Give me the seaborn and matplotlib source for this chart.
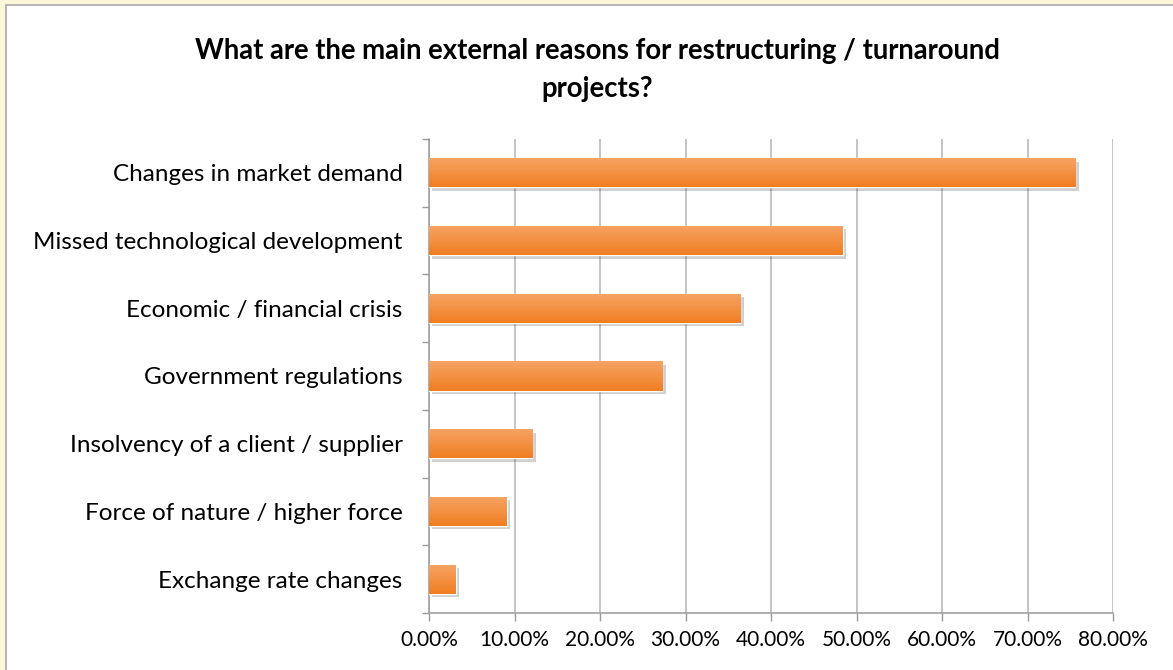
import numpy as np
import pandas as pd
import matplotlib
matplotlib.use('Agg')
import matplotlib.pyplot as plt
import matplotlib.patheffects as pe
from matplotlib.patches import Rectangle
from matplotlib.ticker import PercentFormatter, FixedLocator
import seaborn as sns

# Data
reasons = ['Changes in market demand', 'Missed technological development',
           'Economic / financial crisis', 'Government regulations',
           'Insolvency of a client / supplier', 'Force of nature / higher force',
           'Exchange rate changes']
shares = [75.6, 48.4, 36.4, 27.3, 12.1, 9.1, 3.1]
x_ticks = [0, 10, 20, 30, 40, 50, 60, 70, 80]

df = pd.DataFrame({'reason': reasons, 'share': shares})

sns.set_theme(style='white')
plt.rcParams['font.family'] = ['Lato', 'DejaVu Sans']
plt.rcParams['text.color'] = 'black'

fig = plt.figure(figsize=(11.73, 6.70), dpi=100, facecolor='#FDF7DA')
# white chart panel with thin grey border
fig.patches.append(Rectangle((6 / 1173, -0.05), 1.2, 1 - 5 / 670 + 0.05,
                             transform=fig.transFigure, facecolor='white',
                             edgecolor='#A8A8A8', lw=1.2, zorder=-5))

ax = fig.add_axes([429 / 1173, 1 - 613 / 670, (1113 - 429) / 1173, (613 - 139) / 670])
ax.set_facecolor('none')

sns.barplot(data=df, x='share', y='reason', orient='h', color='#F38A32',
            width=0.43, ax=ax, zorder=3)

# gradient fill + soft shadow on each bar
grad = np.linspace(0, 1, 64).reshape(-1, 1)
cmap = matplotlib.colors.LinearSegmentedColormap.from_list('o', ['#F7A464', '#F07E22'])
for bar in ax.patches:
    bar.set_path_effects([pe.SimplePatchShadow(offset=(2.5, -2.5), shadow_rgbFace='#444444', alpha=0.25),
                          pe.Normal()])
    x0, y0 = bar.get_x(), bar.get_y()
    w, h = bar.get_width(), bar.get_height()
    im = ax.imshow(grad, cmap=cmap, aspect='auto', extent=(x0, x0 + w, y0 + h, y0),
                   zorder=4, interpolation='bicubic')
    im.set_clip_path(bar)

ax.set_xlim(0, 80)
ax.set_ylim(6.5, -0.5)
ax.xaxis.set_major_locator(FixedLocator(x_ticks))
ax.xaxis.set_major_formatter(PercentFormatter(decimals=2))
ax.grid(axis='x', color='#B4B4B4', lw=1.1, zorder=0)
ax.set_axisbelow(True)

for side in ['top', 'right']:
    ax.spines[side].set_visible(False)
for side in ['left', 'bottom']:
    ax.spines[side].set_color('#9A9A9A')
    ax.spines[side].set_linewidth(1.1)

ax.set_yticks(np.arange(-0.5, 7, 1), minor=True)
ax.tick_params(axis='y', which='minor', length=5, width=1, color='#9A9A9A', left=True)
ax.tick_params(axis='y', which='major', length=0, pad=19, labelsize=17.5, labelcolor='black')
ax.tick_params(axis='x', which='major', length=6, width=1, color='#9A9A9A', bottom=True,
               pad=6, labelsize=15, labelcolor='black')
ax.set_xlabel('')
ax.set_ylabel('')

fig.text(597 / 1173, 1 - 70 / 670,
         'What are the main external reasons for restructuring / turnaround\nprojects?',
         ha='center', va='center', fontsize=19.8, fontweight='bold', linespacing=1.55,
         color='black')

fig.savefig('out.png', dpi=100, facecolor=fig.get_facecolor())
